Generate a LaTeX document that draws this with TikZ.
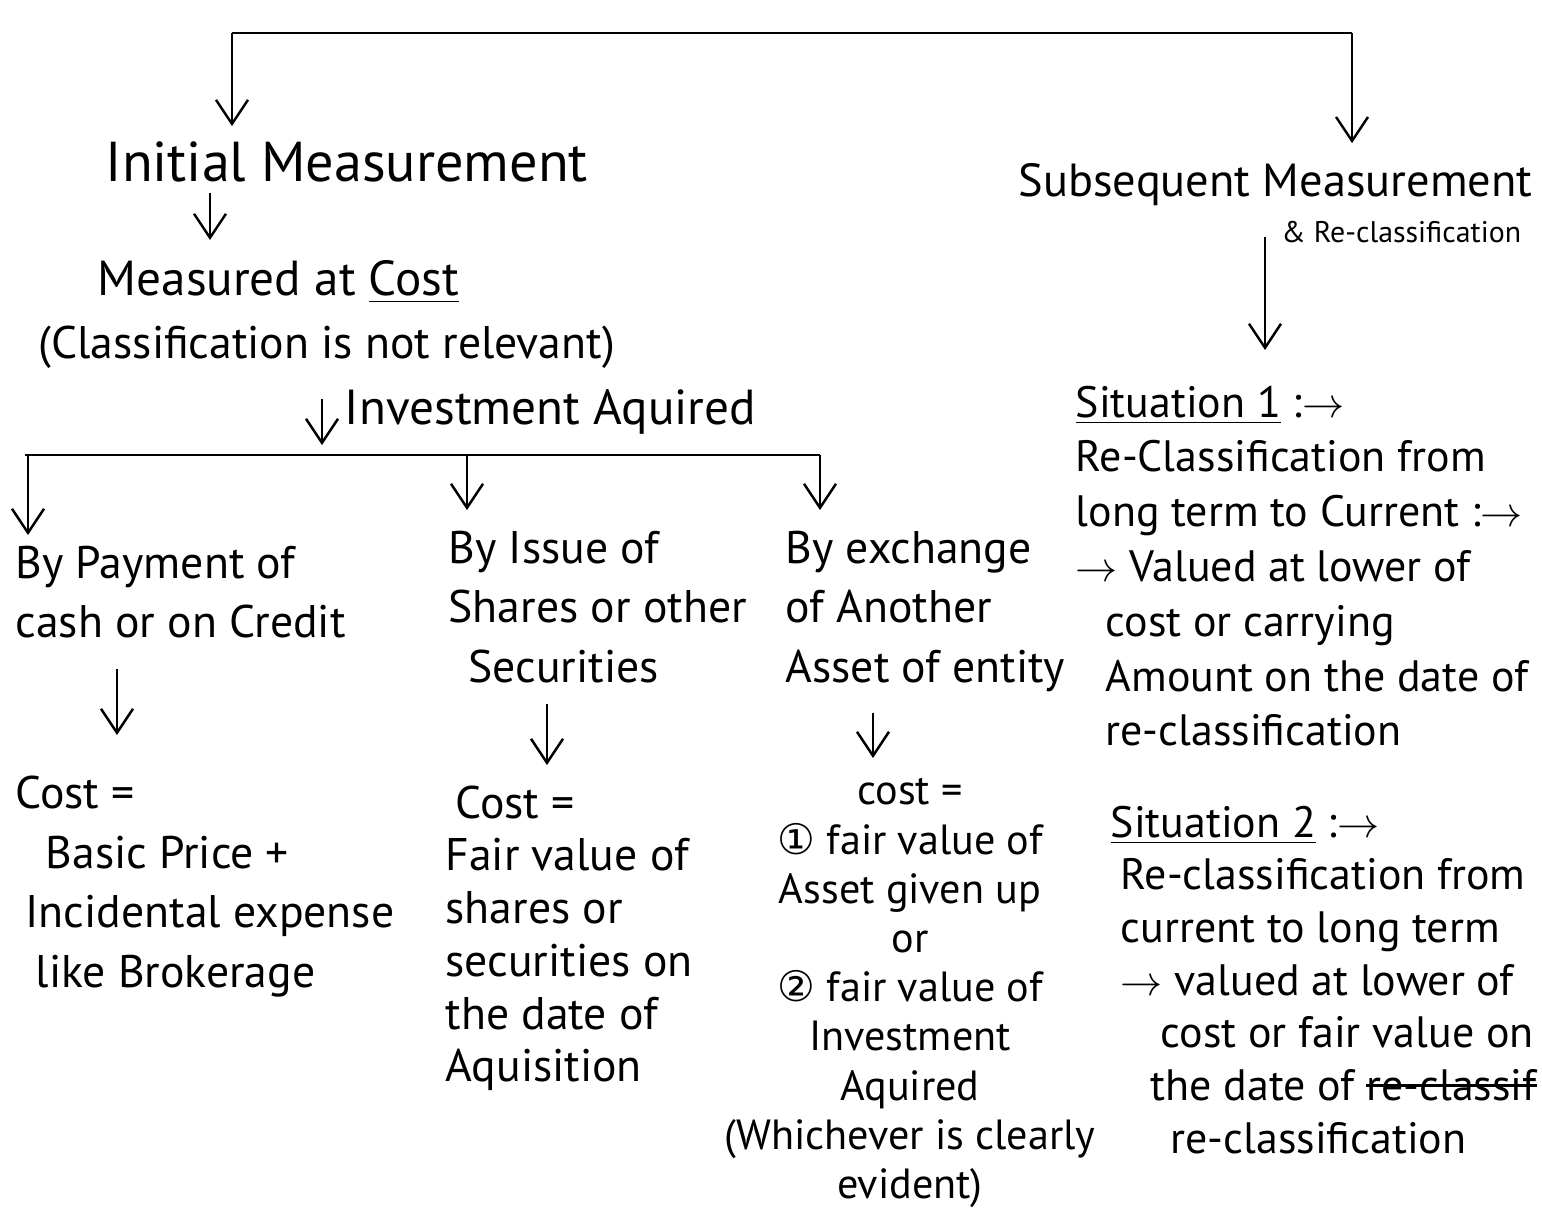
\documentclass[tikz,border=0pt]{standalone}
\usepackage{fontspec}
\setmainfont{PT Sans}
\newfontfamily\circfont{DejaVu Sans}
\newcommand{\struckout}[1]{\setbox0\hbox{#1}\rlap{\rule[0.3em]{\wd0}{0.9pt}}\box0}
\usetikzlibrary{arrows.meta,positioning,calc}
\tikzset{
  heading/.style={inner sep=0pt, anchor=west, font=\fontsize{16}{19}\selectfont},
  note/.style={inner sep=0pt, anchor=north west, align=left, font=\fontsize{13}{17}\selectfont},
  small/.style={inner sep=0pt, anchor=north, align=center, font=\fontsize{12}{14}\selectfont},
  flow/.style={-{Straight Barb[length=2.4mm,width=3.2mm]}, line width=0.7pt},
  branch/.style={line width=0.8pt},
}

\begin{document}
\begin{tikzpicture}
  \path[fill=white,use as bounding box] (0,0) rectangle (15.42,-12.14);
  \coordinate (topL) at (2.32,-0.33);
  \coordinate (topR) at (13.52,-0.33);
  \coordinate (split) at (3.22,-4.55);

  \node[heading] (initial) at (1.05,-1.62) {Initial Measurement};
  \node[heading,font=\fontsize{13.2}{16}\selectfont] (subseq) at (10.18,-1.85) {Subsequent Measurement};
  \node[note,anchor=west,font=\fontsize{14}{17}\selectfont] (measured) at (0.97,-2.82) {Measured at \underline{Cost}};
  \node[note,anchor=west] (notrel) at (0.38,-3.47) {(Classification is not relevant)};

  \node[note] (pay) at (0.15,-5.45) {By Payment of\\cash or on Credit};
  \node[note] (issue) at (4.48,-5.30) {By Issue of\\Shares or other\\\hspace{2mm}Securities};
  \node[note] (exch) at (7.85,-5.30) {By exchange\\of Another\\Asset of entity};

  \node[note] (cost1) at (0.15,-7.75) {Cost =\\\hspace{3mm}Basic Price +\\\hspace{1mm}Incidental expense\\\hspace{2mm}like Brokerage};
  \node[note,font=\fontsize{13}{15}\selectfont] (cost2) at (4.45,-7.85) {\hspace{1mm}Cost =\\Fair value of\\shares or\\securities on\\the date of\\Aquisition};
  \node[small] (cost3) at (9.10,-7.78) {cost =\\{\circfont ①} fair value of\\Asset given up\\or\\{\circfont ②} fair value of\\Investment\\Aquired\\(Whichever is clearly\\evident)};

  \node[note,font=\fontsize{12.5}{15.6}\selectfont] (sit1) at (10.75,-3.85) {\underline{Situation 1} :$\rightarrow$\\Re-Classification from\\long term to Current :$\rightarrow$\\$\rightarrow$ Valued at lower of\\\hspace{3mm}cost or carrying\\\hspace{3mm}Amount on the date of\\\hspace{3mm}re-classification};
  \node[note,font=\fontsize{12.5}{15}\selectfont] (sit2) at (11.10,-8.05) {\underline{Situation 2} :$\rightarrow$\\\hspace{1mm}Re-classification from\\\hspace{1mm}current to long term\\\hspace{1mm}$\rightarrow$ valued at lower of\\\hspace{5mm}cost or fair value on\\\hspace{4mm}the date of \struckout{re-classif}\\\hspace{6mm}re-classification};

  \draw[branch] (topL) -- (topR);
  \draw[flow,shorten >=1.5mm] (topL) -- (topL |- initial.north);
  \draw[flow,shorten >=2mm] (topR) -- (topR |- subseq.north);
  \draw[flow,shorten <=1mm,shorten >=2mm] (initial.south -| 2.1,0) -- (measured.north -| 2.1,0);
  \draw[flow,shorten <=3mm,shorten >=3.5mm] (subseq.south -| 12.65,0) -- (sit1.north -| 12.65,0)
    node[pos=0.14,right=1pt,font=\fontsize{8.5}{10}\selectfont] {\& Re-classification};

  \draw[flow,shorten <=3mm,shorten >=1mm] (notrel.south -| split) -- (split)
    node[midway,right=1mm,font=\fontsize{14}{17}\selectfont] (acq) {Investment Aquired};
  \draw[branch] (split -| 0.25,0) -- (split -| 8.20,0);
  \draw[flow,shorten >=1mm] (split -| 0.28,0) -- (pay.north -| 0.28,0);
  \draw[flow,shorten >=2mm] (split -| 4.67,0) -- (issue.north -| 4.67,0);
  \draw[flow,shorten >=2mm] (split -| 8.20,0) -- (exch.north -| 8.20,0);

  \draw[flow,shorten <=3mm,shorten >=4mm] (pay.south -| 1.17,0) -- (cost1.north -| 1.17,0);
  \draw[flow,shorten <=2mm,shorten >=2mm] (issue.south -| 5.47,0) -- (cost2.north -| 5.47,0);
  \draw[flow,shorten <=2mm,shorten >=2mm] (exch.south -| 8.73,0) -- (cost3.north -| 8.73,0);
\end{tikzpicture}
\end{document}
